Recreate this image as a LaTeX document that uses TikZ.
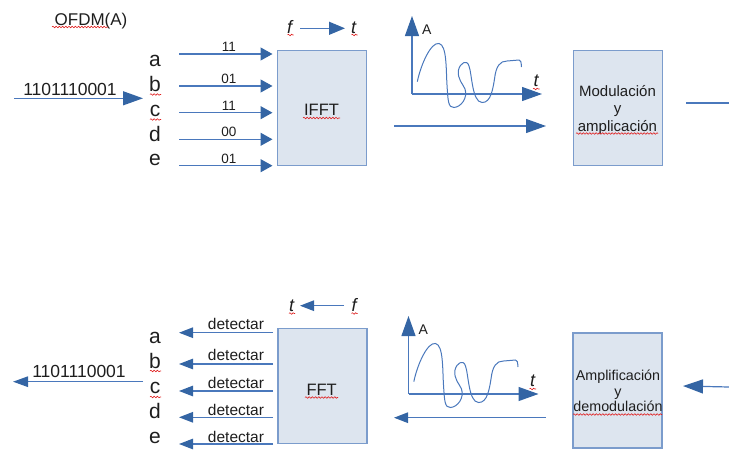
\documentclass[tikz,border=0pt]{standalone}
\usepackage{fontspec}
\setmainfont{Liberation Sans}
\usetikzlibrary{arrows.meta,decorations.pathmorphing}
\definecolor{ln}{HTML}{4A78BC}
\definecolor{ah}{HTML}{3465A4}
\definecolor{bxf}{HTML}{DDE5EF}
\definecolor{bxd}{HTML}{7B9CCC}
\definecolor{tx}{HTML}{1E1E1E}
\definecolor{sq}{HTML}{E02020}
\newcommand\ofdmgraph[1]{%
  \coordinate (#1o) at (412,94);
  \coordinate (#1y) at (412,16);
  \coordinate (#1x) at (542,94);
  \draw[bigarr] (#1o) -- (#1y);
  \draw[bigarr] (#1o) -- (#1x);
  \node[txt, font=\fontsize{14}{16}\selectfont] (#1A) at (426.7,34) {A};
  \node[txt, font=\fontsize{18}{20}\selectfont\itshape] (#1t) at (536,86.7) {t};
  \draw[spell] (533,89) -- (539.5,89);
  \draw[wave] (417.3,81.7)
    .. controls (421,64) and (431,42) .. (439,43.5)
    .. controls (447,45) and (446,70) .. (447,85)
    .. controls (448,100) and (448,108) .. (454,107.5)
    .. controls (461,107) and (468,98) .. (465,89)
    .. controls (463,84) and (457,79) .. (458.5,70)
    .. controls (460,63) and (467,59) .. (469,66)
    .. controls (472,74) and (472,102) .. (482,102.5)
    .. controls (491,103) and (493,88) .. (494.5,79)
    .. controls (496,66) and (500,61) .. (507,61)
    -- (519,60)
    .. controls (521,61) .. (521.5,67);
}
\begin{document}
\begin{tikzpicture}[x=1pt,y=-1pt,
  conn/.style={draw=ln, line width=1.2pt},
  bigarr/.style={conn, -{Triangle[length=20pt,width=14pt,color=ah]}},
  smallarr/.style={conn, -{Triangle[length=12pt,width=13pt,color=ah]}},
  ftarr/.style={conn, -{Triangle[length=16pt,width=13pt,color=ah]}},
  botarr/.style={conn, -{Triangle[length=14pt,width=10.5pt,color=ah]}},
  blk/.style={draw=bxd, fill=bxf, line width=1.5pt, minimum width=89pt, minimum height=115pt, inner sep=0pt},
  txt/.style={text=tx, inner sep=0pt, anchor=base},
  spell/.style={draw=sq, line width=0.6pt, decorate, decoration={snake, amplitude=0.8pt, segment length=3.2pt}},
  wave/.style={draw=ln, line width=1pt},
  big/.style={font=\fontsize{17.5}{20}\selectfont},
  let/.style={font=\fontsize{21}{24}\selectfont},
  lab/.style={font=\fontsize{13.5}{15}\selectfont},
  ital/.style={font=\fontsize{18}{20}\selectfont\itshape},
  det/.style={font=\fontsize{15.5}{18}\selectfont},
]
\useasboundingbox (0,0) rectangle (729,450);

% ================= TOP =================
\node[txt, font=\fontsize{17}{20}\selectfont] (title) at (91,25) {OFDM(A)};
\draw[spell] (52,27) -- (108,27);

\coordinate (inS) at (14,98.3);
\coordinate (inE) at (143,98.3);
\draw[bigarr] (inS) -- (inE);
\node[txt, big] (inbits) at (70,95) {1101110001};

\node[txt, let] (la) at (155,66) {a};
\node[txt, let] (lb) at (155,91) {b};
\node[txt, let] (lc) at (155,116) {c};
\node[txt, let] (ld) at (155,141.5) {d};
\node[txt, let] (le) at (155,165.7) {e};
\draw[spell] (150,94.5) -- (161,94.5);
\draw[spell] (150,119.5) -- (161,119.5);

\node[blk] (ifft) at (322,108) {};
\node[txt, font=\fontsize{16.5}{19}\selectfont] (ifftt) at (321.5,115) {IFFT};
\draw[spell] (303,118) -- (340,118);

\foreach \y/\v [count=\i] in {54/11, 86/01, 112.7/11, 139.3/00, 165.7/01}{
  \coordinate (ts\i) at (179,\y);
  \coordinate (te\i) at (272.5,\y);
  \draw[smallarr] (ts\i) -- (te\i);
  \node[txt, lab] (tl\i) at (228.8,\y-2.5) {\v};
}

\node[txt, ital] (tf) at (289.5,33) {f};
\node[txt, ital] (tt) at (353.5,33) {t};
\coordinate (tfa) at (300,28.3);
\coordinate (tfb) at (345,28.3);
\draw[ftarr] (tfa) -- (tfb);
\draw[spell] (287.5,35) -- (293.5,35);
\draw[spell] (351.5,35) -- (357.5,35);

\ofdmgraph{g}
\coordinate (mS) at (394,126);
\coordinate (mE) at (546,126);
\draw[bigarr] (mS) -- (mE);

\node[blk] (mod) at (618,108) {};
\node[txt, font=\fontsize{15}{17}\selectfont] (mod1) at (617.5,96) {Modulación};
\node[txt, font=\fontsize{15}{17}\selectfont] (mod2) at (617.5,113.5) {y};
\node[txt, font=\fontsize{15}{17}\selectfont] (mod3) at (617.5,131) {amplicación};
\draw[spell] (576,133.5) -- (658,133.5);

\coordinate (rS) at (686,103);
\coordinate (rE) at (729,103);
\draw[conn] (rS) -- (rE);

% ================= BOTTOM =================
\coordinate (outS) at (143,381.7);
\coordinate (outE) at (13,381.7);
\draw[conn, -{Triangle[length=15pt,width=10.5pt,color=ah]}] (outS) -- (outE);
\node[txt, big] (outbits) at (79,377.7) {1101110001};

\node[txt, let] (ba) at (155,343.3) {a};
\node[txt, let] (bb) at (155,368) {b};
\node[txt, let] (bc) at (155,393.5) {c};
\node[txt, let] (bd) at (155,418.3) {d};
\node[txt, let] (be) at (155,443.5) {e};
\draw[spell] (150,371) -- (161,371);
\draw[spell] (150,397) -- (161,397);

\node[blk] (fft) at (322.5,386) {};
\node[txt, font=\fontsize{16.5}{19}\selectfont] (fftt) at (321.7,395) {FFT};
\draw[spell] (305,397.5) -- (338,397.5);

\foreach \y/\b [count=\i] in {332.7/329.3, 364/360.7, 391/388.3, 417.3/415, 444/442.3}{
  \coordinate (bs\i) at (273,\y);
  \coordinate (be\i) at (179,\y);
  \draw[botarr] (bs\i) -- (be\i);
  \node[txt, det] (dl\i) at (236,\b) {detectar};
}

\node[txt, ital] (bt) at (291.7,311.7) {t};
\node[txt, ital] (bf) at (354,311.7) {f};
\coordinate (bfa) at (344,305.7);
\coordinate (bfb) at (300,305.7);
\draw[botarr] (bfa) -- (bfb);
\draw[spell] (289,313.5) -- (295,313.5);
\draw[spell] (351.5,313.5) -- (357.5,313.5);

\begin{scope}[shift={(-3.5,300)}]
  \ofdmgraph{h}
\end{scope}
\coordinate (dS) at (545.7,417.7);
\coordinate (dE) at (394,417.7);
\draw[botarr] (dS) -- (dE);

\node[blk] (amp) at (617.7,390.3) {};
\node[txt, font=\fontsize{14.3}{17}\selectfont] (amp1) at (618,380) {Amplificación};
\node[txt, font=\fontsize{14.3}{17}\selectfont] (amp2) at (618,396.5) {y};
\node[txt, font=\fontsize{14.3}{17}\selectfont] (amp3) at (618,411.7) {demodulación};
\draw[spell] (573,414.5) -- (662,414.5);

\coordinate (iS) at (729,387);
\coordinate (iE) at (683,386);
\draw[bigarr] (iS) -- (iE);
\end{tikzpicture}
\end{document}
